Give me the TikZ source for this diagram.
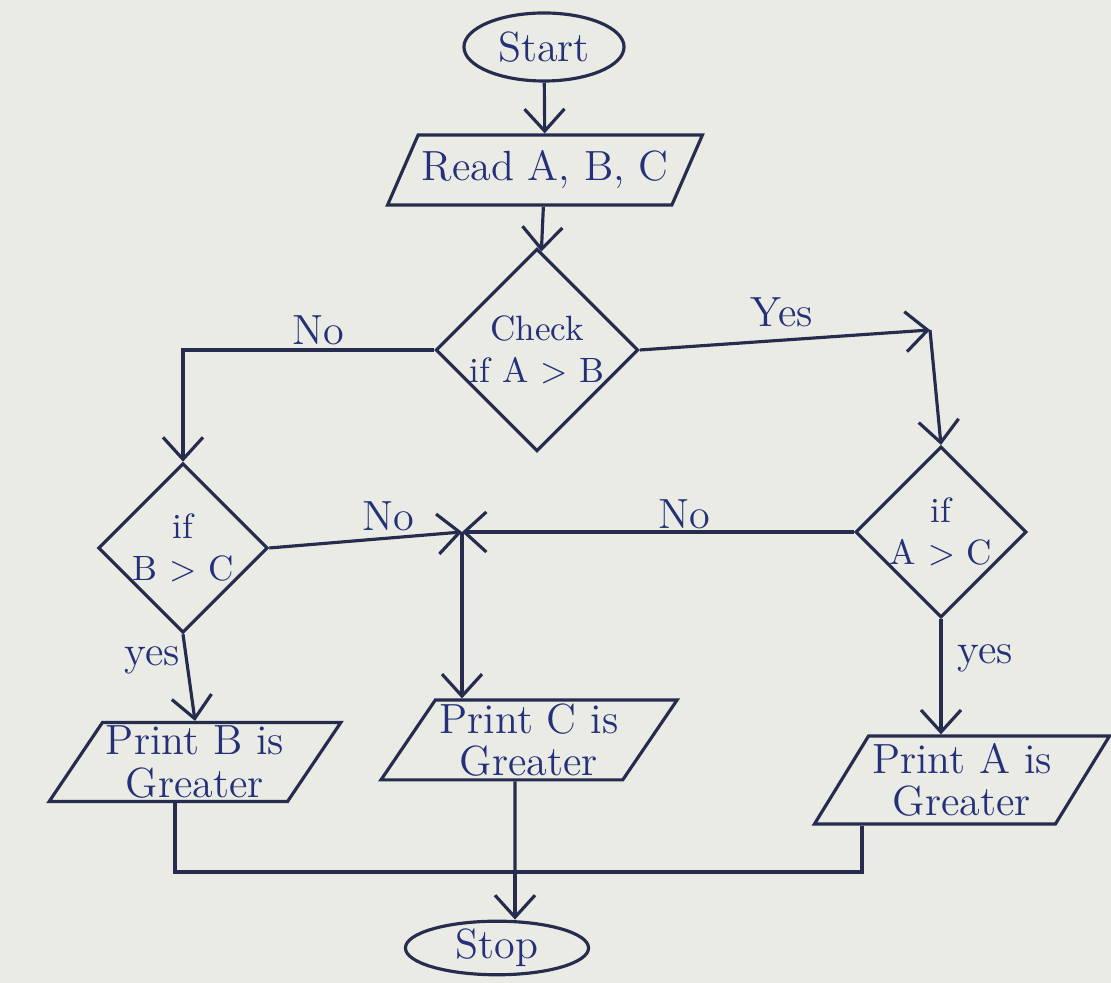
\documentclass[tikz,border=0pt]{standalone}
\usepackage{tikz}
\usetikzlibrary{shapes.geometric,arrows.meta,positioning}
\definecolor{paper}{RGB}{234,235,228}
\definecolor{ink}{RGB}{38,44,78}
\definecolor{pen}{RGB}{36,48,120}

\begin{document}
\begin{tikzpicture}[
  x=0.01cm, y=-0.01cm,
  every node/.style={text=pen, font=\large},
  term/.style={draw=ink, ellipse, line width=0.9pt, inner sep=0pt},
  io/.style={draw=ink, trapezium, trapezium left angle=56, trapezium right angle=124,
    trapezium stretches=true, line width=0.9pt, align=center, inner sep=1pt},
  test/.style={draw=ink, diamond, line width=0.9pt, align=center, inner sep=0pt, font=\normalsize},
  arr/.style={-{Straight Barb[length=2.2mm,width=4mm]}, draw=ink, line width=0.9pt},
  line/.style={draw=ink, line width=0.9pt}
]
  \fill[paper] (0,0) rectangle (1111,983);
  \useasboundingbox (0,0) rectangle (1111,983);

  % shapes
  \node[term, minimum width=1.6cm, minimum height=0.68cm] (start) at (544,47) {Start};
  \node[io, minimum width=2.95cm, minimum height=0.7cm] (read) at (545,170) {Read A, B, C};
  \node[test, minimum width=1.92cm, minimum height=1.47cm] (check) at (537,350) {Check\\if A $>$ B};
  \node[test, minimum width=1.5cm, minimum height=1.08cm] (bc) at (183,548) {if\\B $>$ C};
  \node[test, minimum width=1.43cm, minimum height=1.43cm] (ac) at (941,532) {if\\A $>$ C};
  \node[io, minimum width=2.4cm, minimum height=0.75cm] (printB) at (195,762) {Print B is\\[-2pt]Greater};
  \node[io, minimum width=2.98cm, minimum height=0.74cm] (printC) at (529,740) {Print C is\\[-2pt]Greater};
  \node[io, minimum width=2.87cm, minimum height=0.88cm] (printA) at (962,780) {Print A is\\[-2pt]Greater};
  \node[term, minimum width=1.83cm, minimum height=0.53cm] (stop) at (497,948) {Stop};

  \coordinate (yesc) at (930,330);
  \coordinate (join) at (462,532);
  \coordinate (merge) at (515,872);

  % connectors
  \draw[arr] (start) -- (read);
  \draw[arr] (read) -- (check);
  \draw[arr] (check.east) -- (yesc);
  \draw[arr] (yesc) -- (ac.north);
  \draw[arr] (check.west) -| (bc.north);
  \draw[arr] (bc.east) -- (join);
  \draw[arr] (ac.west) -- (join);
  \draw[arr] (join) -- (join |- printC.north);
  \draw[arr] (bc.south) -- (printB.north);
  \draw[arr] (ac.south) -- (ac.south |- printA.north);
  \draw[line] ([xshift=-0.2cm]printB.south) |- (merge) -| ([xshift=-1cm]printA.south);
  \draw[line] ([xshift=-0.14cm]printC.south) -- (merge);
  \draw[arr] (merge) -- (merge |- stop.north);

  % labels
  \node (yes1) at (782,312) {Yes};
  \node (no1) at (318,330) {No};
  \node (no2) at (388,516) {No};
  \node (no3) at (684,514) {No};
  \node (yes2) at (152,660) {yes};
  \node (yes3) at (985,658) {yes};
\end{tikzpicture}
\end{document}
